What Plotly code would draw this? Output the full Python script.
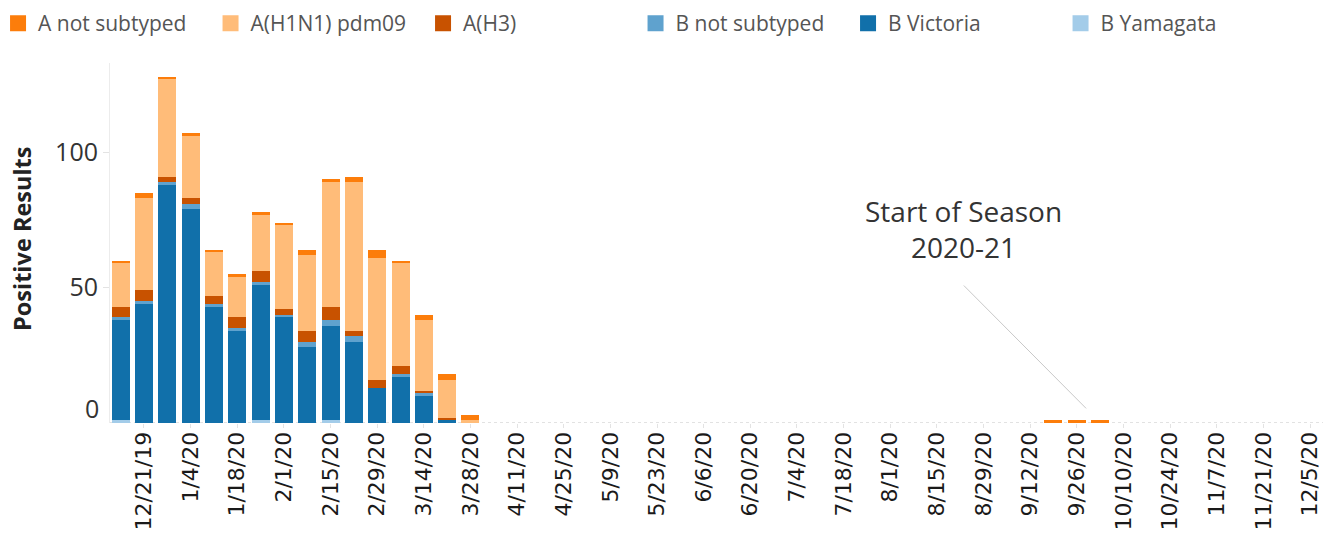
import plotly.graph_objects as go

# ---- data ----
weeks = ["2019-12-14", "2019-12-21", "2019-12-28", "2020-01-04", "2020-01-11",
         "2020-01-18", "2020-01-25", "2020-02-01", "2020-02-08", "2020-02-15",
         "2020-02-22", "2020-02-29", "2020-03-07", "2020-03-14", "2020-03-21",
         "2020-03-28", "2020-09-19", "2020-09-26", "2020-10-03"]
b_yamagata      = [1, 0, 0, 0, 0, 0, 1, 0, 0, 1, 0, 0, 0, 0, 0, 0, 0, 0, 0]
b_victoria      = [37, 44, 88, 79, 43, 34, 50, 39, 28, 35, 30, 13, 17, 10, 1, 0, 0, 0, 0]
b_not_subtyped  = [1, 1, 1, 2, 1, 1, 1, 1, 2, 2, 2, 0, 1, 1, 0, 0, 0, 0, 0]
a_h3            = [4, 4, 2, 2, 3, 4, 4, 2, 4, 5, 2, 3, 3, 1, 1, 0, 0, 0, 0]
a_h1n1          = [16, 34, 36, 23, 16, 15, 21, 31, 28, 46, 55, 45, 38, 26, 14, 1, 0, 0, 0]
a_not_subtyped  = [1, 2, 1, 1, 1, 1, 1, 1, 2, 1, 2, 3, 1, 2, 2, 2, 1, 1, 1]

series_names = ["B Yamagata", "B Victoria", "B not subtyped", "A(H3)",
                "A(H1N1) pdm09", "A not subtyped"]
series_values = [b_yamagata, b_victoria, b_not_subtyped, a_h3, a_h1n1, a_not_subtyped]
series_colors = ["#a3cce9", "#1170aa", "#5fa2ce", "#c85200", "#ffbc79", "#fc7d0b"]
legend_order = ["A not subtyped", "A(H1N1) pdm09", "A(H3)",
                "B not subtyped", "B Victoria", "B Yamagata"]

y_ticks = [50, 100]
annotation_text = "Start of Season<br>2020-21"

DAY_MS = 86400000
fig = go.Figure()

for name, vals, col in zip(series_names, series_values, series_colors):
    fig.add_trace(go.Bar(x=weeks, y=vals, name=name, marker=dict(color=col, line=dict(width=0)),
                         width=5.4 * DAY_MS, showlegend=False))

color_of = dict(zip(series_names, series_colors))
for name in legend_order:
    fig.add_trace(go.Scatter(x=[None], y=[None], mode="markers", name=name,
                             marker=dict(symbol="square", size=16, color=color_of[name]),
                             showlegend=True))

fig.update_layout(
    width=1328, height=539,
    margin=dict(l=110, r=5, t=63, b=115.5, autoexpand=False),
    barmode="stack",
    plot_bgcolor="white", paper_bgcolor="white",
    font=dict(family="Open Sans", color="#333"),
    legend=dict(orientation="h", xref="paper", yref="paper", x=-0.0923, y=1.1664,
                xanchor="left", yanchor="top", traceorder="normal", itemsizing="trace",
                entrywidth=167.5, entrywidthmode="pixels",
                font=dict(family="Open Sans", size=21, color="#555")),
    xaxis=dict(type="date", range=["2019-12-10 19:10", "2020-12-08 21:40"],
               tick0="2019-12-21", dtick=14 * DAY_MS, tickformat="%-m/%-d/%y",
               tickangle=-90, ticks="outside", ticklen=4, tickcolor="#e3e3e3",
               ticklabelstandoff=-5,
               showgrid=False, zeroline=False, showline=False,
               tickfont=dict(family="DejaVu Sans", size=22, color="#1a1a1a")),
    yaxis=dict(range=[0, 133], tickvals=y_ticks, ticks="outside", ticklen=6,
               tickcolor="#e3e3e3", showgrid=False, zeroline=False,
               showline=True, linecolor="#ececec", linewidth=1,
               tickfont=dict(family="Open Sans", size=25, color="#333")),
    shapes=[
        dict(type="line", xref="paper", x0=0, x1=1, yref="y", y0=0, y1=0,
             line=dict(color="#d9d9d9", width=1.5, dash="dot"), layer="below"),
        dict(type="line", xref="x", yref="y", x0="2020-08-23 02:00", y0=50.8,
             x1="2020-09-28 19:00", y1=5.4, line=dict(color="#c8c8c8", width=1)),
    ],
    annotations=[
        dict(text="0", xref="paper", x=0, xanchor="right", xshift=-9, yref="y", y=0,
             yanchor="middle", yshift=15, showarrow=False,
             font=dict(family="Open Sans", size=25, color="#333")),
        dict(text="Positive Results", xref="paper", x=0, xshift=-88, xanchor="center",
             yref="paper", y=0.5, yshift=4, yanchor="middle", textangle=-90, showarrow=False,
             font=dict(family="Open Sans", size=23.5, color="#222", weight="bold")),
        dict(text=annotation_text, xref="x", yref="y", x="2020-08-23", y=71.8,
             showarrow=False, align="center",
             font=dict(family="Open Sans", size=28, color="#333")),
    ],
)

fig.write_html("out.html", config={"displayModeBar": False},
               post_script="document.body.style.margin='0px';")
